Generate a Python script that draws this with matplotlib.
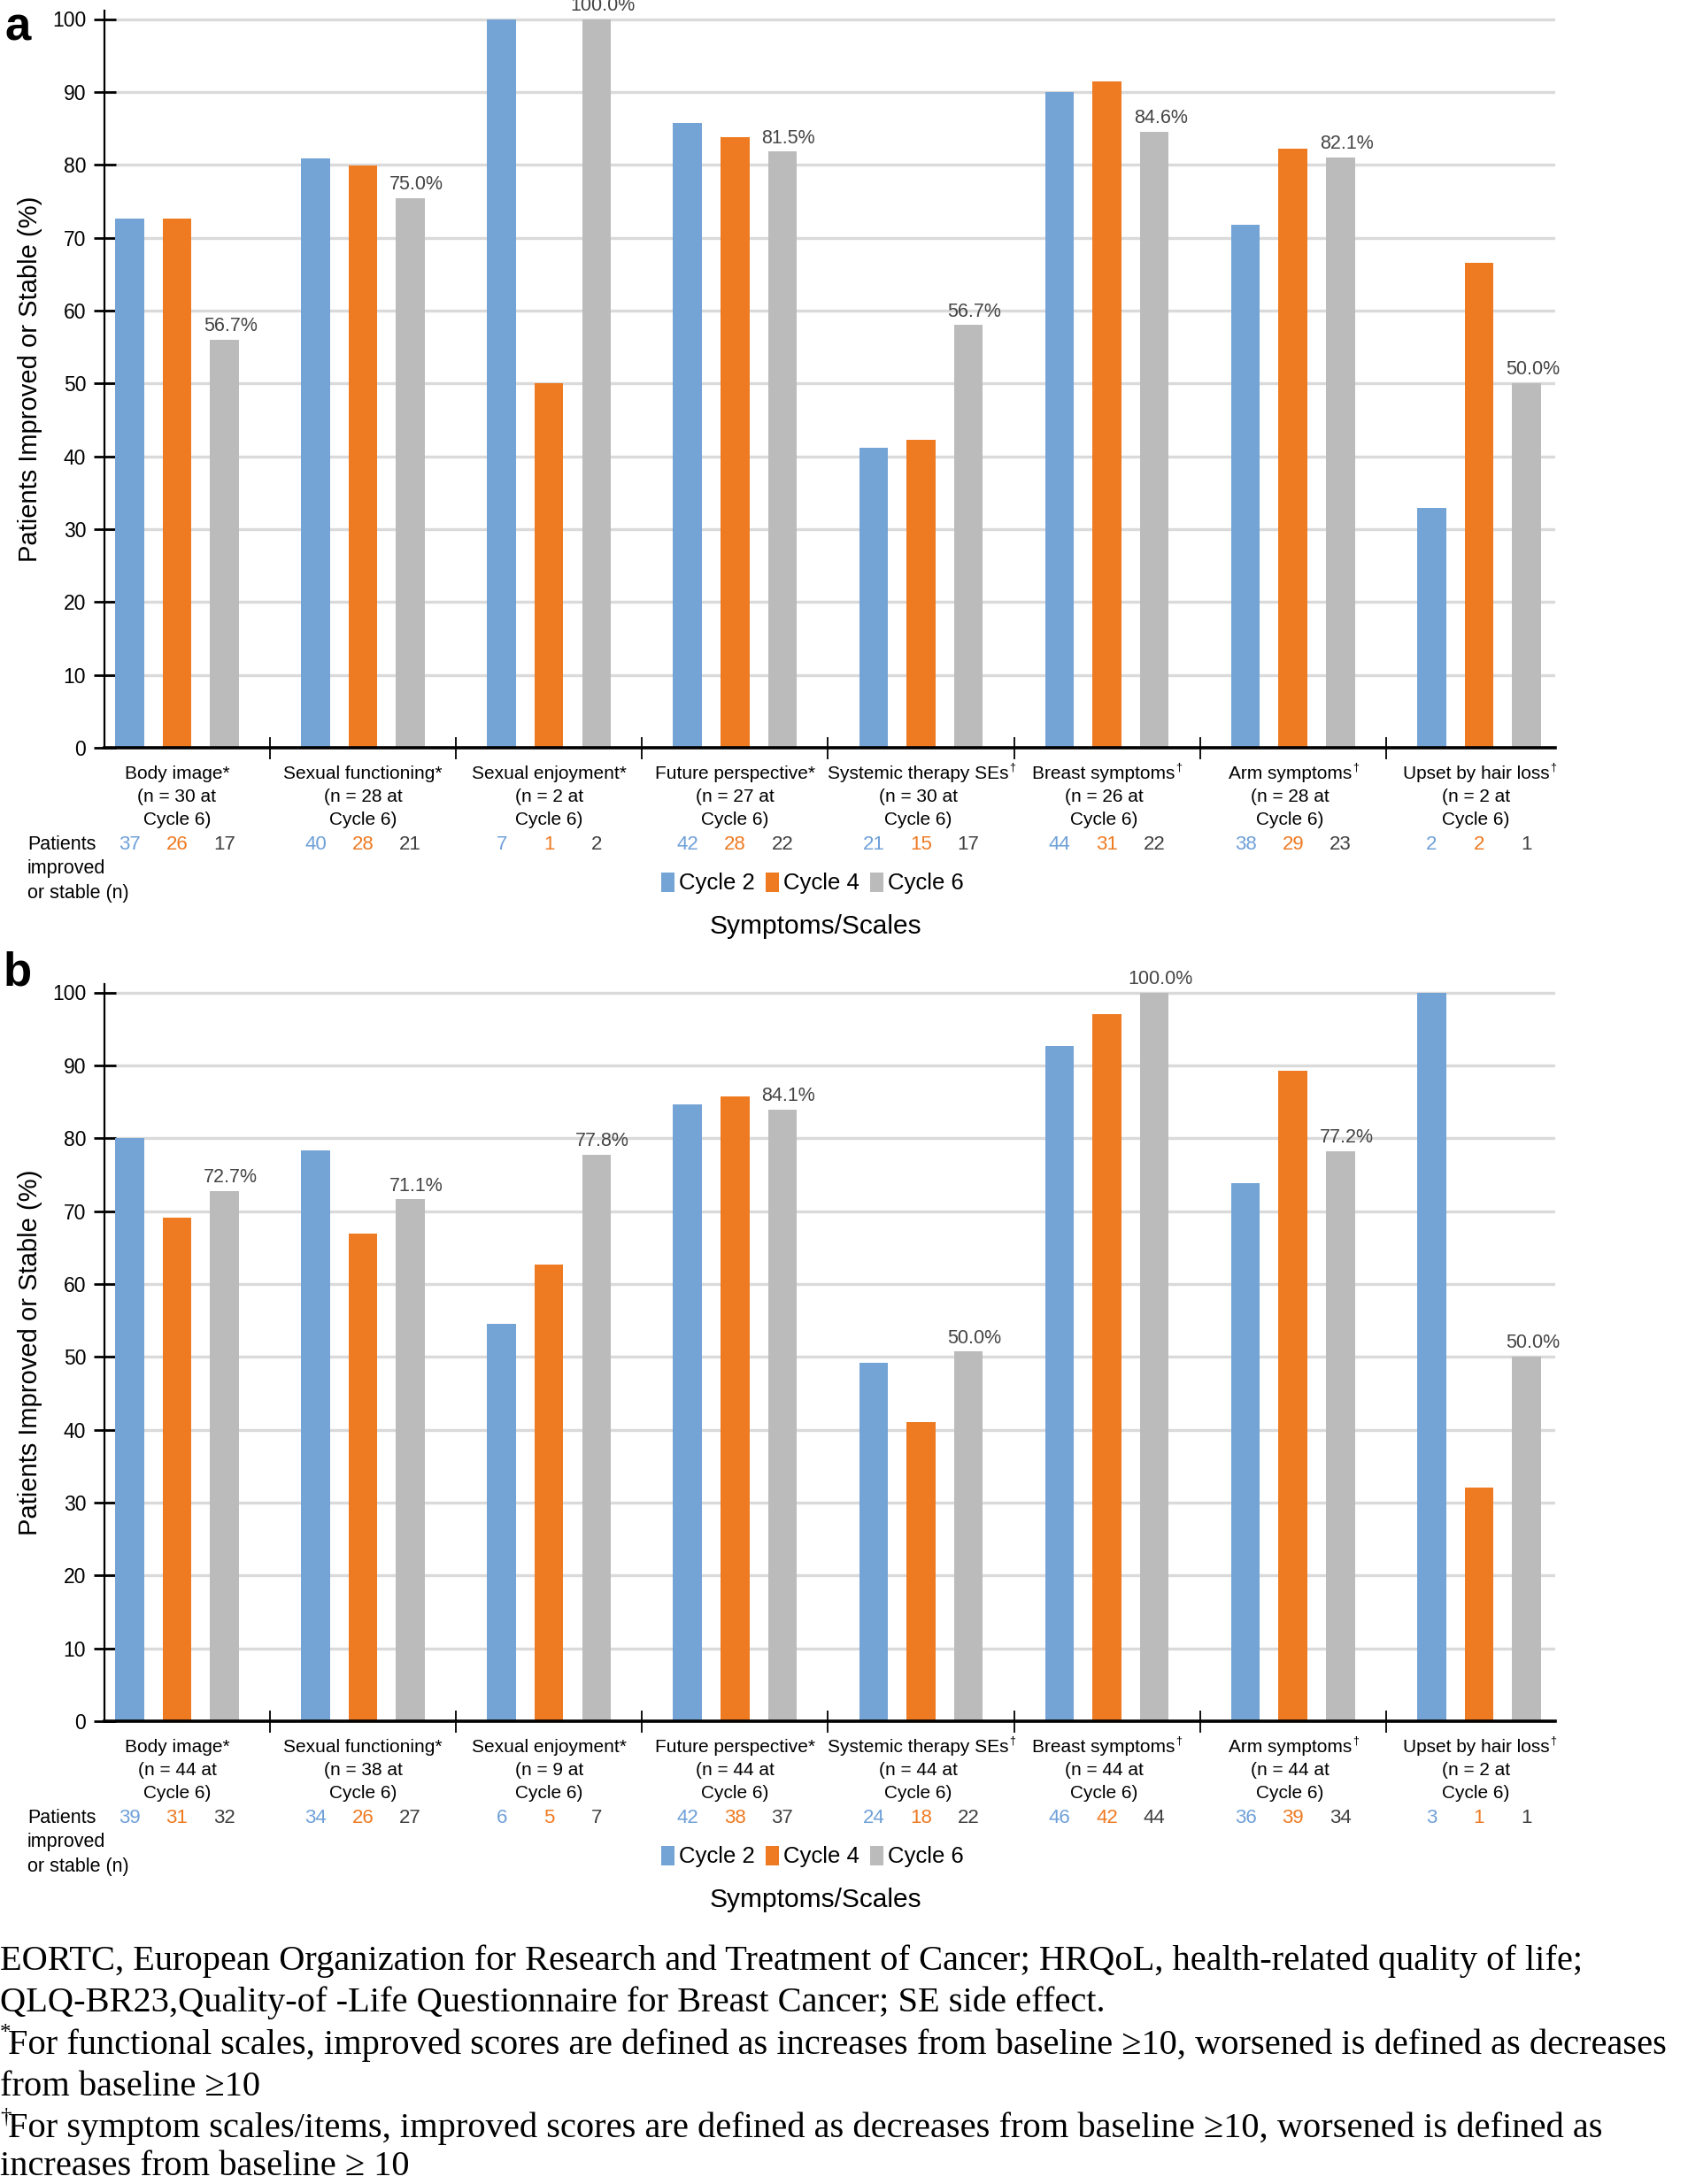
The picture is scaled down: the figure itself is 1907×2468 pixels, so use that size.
import matplotlib
matplotlib.use("Agg")
import matplotlib.pyplot as plt
import matplotlib.transforms as mtransforms
from matplotlib.patches import Patch

plt.rcParams['font.family'] = ['Liberation Sans', 'DejaVu Sans']

# ---------------- data ----------------
categories = ["Body image*", "Sexual functioning*", "Sexual enjoyment*", "Future perspective*",
              "Systemic therapy SEs", "Breast symptoms", "Arm symptoms", "Upset by hair loss"]
category_marks = ["", "", "", "", "\u2020", "\u2020", "\u2020", "\u2020"]
series_names = ["Cycle 2", "Cycle 4", "Cycle 6"]

# Panel a
a_n_cycle6 = [30, 28, 2, 27, 30, 26, 28, 2]
a_cycle2 = [72.6, 80.9, 100.0, 85.7, 41.2, 90.0, 71.8, 32.9]
a_cycle4 = [72.6, 79.9, 50.0, 83.8, 42.2, 91.4, 82.2, 66.6]
a_cycle6 = [56.0, 75.4, 100.0, 81.8, 58.0, 84.5, 81.0, 50.0]
a_cycle6_labels = ["56.7%", "75.0%", "100.0%", "81.5%", "56.7%", "84.6%", "82.1%", "50.0%"]
a_count2 = [37, 40, 7, 42, 21, 44, 38, 2]
a_count4 = [26, 28, 1, 28, 15, 31, 29, 2]
a_count6 = [17, 21, 2, 22, 17, 22, 23, 1]

# Panel b
b_n_cycle6 = [44, 38, 9, 44, 44, 44, 44, 2]
b_cycle2 = [80.0, 78.3, 54.5, 84.6, 49.2, 92.7, 73.8, 100.0]
b_cycle4 = [69.1, 66.9, 62.7, 85.7, 41.1, 97.0, 89.3, 32.0]
b_cycle6 = [72.7, 71.6, 77.7, 83.9, 50.7, 100.0, 78.2, 50.0]
b_cycle6_labels = ["72.7%", "71.1%", "77.8%", "84.1%", "50.0%", "100.0%", "77.2%", "50.0%"]
b_count2 = [39, 34, 6, 42, 24, 46, 36, 3]
b_count4 = [31, 26, 5, 38, 18, 42, 39, 1]
b_count6 = [32, 27, 7, 37, 22, 44, 34, 1]

yticks = list(range(0, 101, 10))

footnotes = [
    ("", "EORTC, European Organization for Research and Treatment of Cancer; HRQoL, health-related quality of life;"),
    ("", "QLQ-BR23,Quality-of -Life Questionnaire for Breast Cancer; SE side effect."),
    ("*", "For functional scales, improved scores are defined as increases from baseline \u226510, worsened is defined as decreases"),
    ("", "from baseline \u226510"),
    ("\u2020", "For symptom scales/items, improved scores are defined as decreases from baseline \u226510, worsened is defined as"),
    ("", "increases from baseline \u2265 10"),
]

# ---------------- style ----------------
W, H = 1908, 2468
bar_colors = ["#74A3D5", "#EE7A22", "#BBBBBB"]
count_colors = ["#6FA0D8", "#EE7A22", "#404040"]
label_color = "#444444"
grid_color = "#DADADA"
cat_fs = 15

fig = plt.figure(figsize=(W / 100, H / 100), dpi=100)
renderer = fig.canvas.get_renderer()


def fy(px):
    return 1 - px / H


def fx(px):
    return px / W


def text_width_px(s, fs):
    t = fig.text(0, 0, s, fontsize=fs)
    w = t.get_window_extent(renderer=renderer).width
    t.remove()
    return w


def draw_panel(letter, top_px, zero_px, c2, c4, c6, c6_labels, n6, cnt2, cnt4, cnt6):
    ymax = 101.2
    hundred_px = zero_px - 823.5
    px_per_unit = (zero_px - hundred_px) / 100.0
    ax_top = zero_px - ymax * px_per_unit
    left, right = 118, 1757
    ax = fig.add_axes([fx(left), fy(zero_px), (right - left) / W, (zero_px - ax_top) / H])
    ax.set_xlim(-0.39, 7.41)
    ax.set_ylim(0, ymax)
    x = list(range(len(categories)))
    off = 0.255
    w = 0.155
    for k, (vals, col) in enumerate(zip([c2, c4, c6], bar_colors)):
        ax.bar([xi + (k - 1) * off for xi in x], vals, width=w, color=col, zorder=3, linewidth=0)
    for xi, v, lab in zip(x, c6, c6_labels):
        ax.annotate(lab, (xi + off, v), xytext=(5, 3.5), textcoords="offset points",
                    ha="center", va="bottom", fontsize=15.5, color=label_color, zorder=4,
                    annotation_clip=False)
    # grid
    ax.set_yticks(yticks)
    ax.set_yticklabels([str(t) for t in yticks], fontsize=16.5)
    for t in yticks[1:]:
        ax.axhline(t, color=grid_color, lw=2.4, zorder=1)
    ax.tick_params(axis="y", direction="inout", length=18, width=2.0, pad=6, color="black")
    ax.set_xticks([])
    ax.set_xticks([i + 0.5 for i in range(len(categories) - 1)], minor=True)
    ax.tick_params(axis="x", which="minor", direction="inout", length=18, width=1.3, color="black")
    for s in ["top", "right"]:
        ax.spines[s].set_visible(False)
    ax.spines["left"].set_linewidth(1.6)
    ax.spines["bottom"].set_linewidth(2.6)
    ax.spines["bottom"].set_zorder(5)
    ax.set_ylabel("Patients Improved or Stable (%)", fontsize=21, labelpad=8)

    blend = mtransforms.blended_transform_factory(ax.transData, fig.transFigure)
    px_per_x = (right - left) / 7.8
    # category labels
    for xi, cat, mark, n in zip(x, categories, category_marks, n6):
        txt = f"{cat}\n(n = {n} at\nCycle 6)"
        shift = 0.0
        if mark:
            mw = text_width_px(mark, 9)
            shift = -mw / 2 / px_per_x
        ax.text(xi + shift, fy(zero_px + 20), txt, transform=blend, ha="center", va="top",
                fontsize=cat_fs, linespacing=1.45)
        if mark:
            lw = text_width_px(cat, cat_fs)
            ax.text(xi + shift + lw / 2 / px_per_x + 0.004, fy(zero_px + 16), mark,
                    transform=blend, ha="left", va="top", fontsize=9)
    # counts
    cy = zero_px + 110
    for k, (cnts, col) in enumerate(zip([cnt2, cnt4, cnt6], count_colors)):
        for xi, c in zip(x, cnts):
            ax.text(xi + (k - 1) * off, fy(cy), str(c), transform=blend, ha="center",
                    va="center", fontsize=16, color=col)
    for i, line in enumerate(["Patients", "improved", "or stable (n)"]):
        fig.text(fx(31), fy(cy + i * 27), line, ha="left", va="center", fontsize=15.5)
    # legend
    handles = [Patch(facecolor=c, edgecolor="none") for c in bar_colors]
    fig.legend(handles, series_names, loc="center", bbox_to_anchor=(fx(918), fy(zero_px + 153)),
               ncol=3, frameon=False, fontsize=18.5, handlelength=0.6, handleheight=0.95,
               handletextpad=0.2, columnspacing=0.45)
    fig.text(fx(921), fy(zero_px + 202), "Symptoms/Scales", ha="center", va="center", fontsize=21.5)
    fig.text(fx(20), fy(top_px), letter, ha="center", va="center", fontsize=38,
             fontweight="bold")
    return ax


draw_panel("a", 31, 845, a_cycle2, a_cycle4, a_cycle6, a_cycle6_labels, a_n_cycle6,
           a_count2, a_count4, a_count6)
draw_panel("b", 1099, 1945, b_cycle2, b_cycle4, b_cycle6, b_cycle6_labels, b_n_cycle6,
           b_count2, b_count4, b_count6)

# footnotes
foot_y = [2216, 2263, 2311, 2358, 2405, 2449]
for (sup, line), y in zip(footnotes, foot_y):
    xpos = 0
    if sup:
        fig.text(fx(0), fy(y - 13), sup, ha="left", va="center", fontsize=18,
                 family="Liberation Serif")
        xpos = 9
    fig.text(fx(xpos), fy(y), line, ha="left", va="center", fontsize=29.2,
             family="Liberation Serif")

fig.savefig("out.png", dpi=100)
